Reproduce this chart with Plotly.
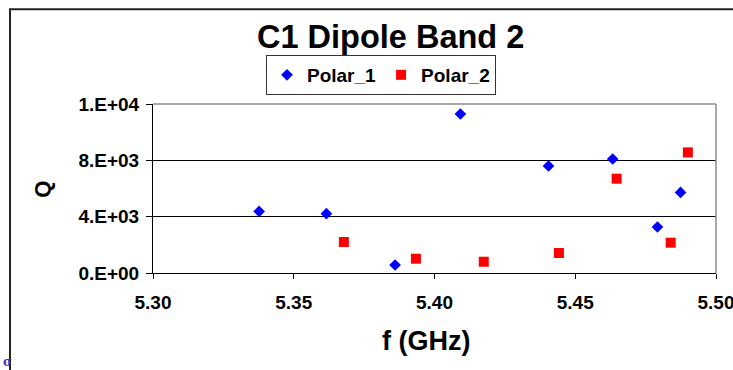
import plotly.graph_objects as go

# Data
polar1_f = [5.3377, 5.3616, 5.3860, 5.4092, 5.4405, 5.4633, 5.4792, 5.4874]
polar1_q = [4374, 4211, 568, 11290, 7598, 8095, 3266, 5723]
polar2_f = [5.3678, 5.3934, 5.4175, 5.4442, 5.4647, 5.4839, 5.4900]
polar2_q = [2201, 1015, 802, 1420, 6696, 2151, 8563]

x_ticks = [5.30, 5.35, 5.40, 5.45, 5.50]
x_ticktext = ["5.30", "5.35", "5.40", "5.45", "5.50"]
y_ticks = [0, 4000, 8000, 12000]
y_ticktext = ["0.E+00", "4.E+03", "8.E+03", "1.E+04"]

FONT = "Liberation Sans, Arial, sans-serif"

fig = go.Figure()
fig.add_trace(go.Scatter(
    x=polar1_f, y=polar1_q, mode="markers", name="<b>Polar_1</b>",
    marker=dict(symbol="diamond", size=9, color="#0000FF"),
))
fig.add_trace(go.Scatter(
    x=polar2_f, y=polar2_q, mode="markers", name="<b>Polar_2</b>",
    marker=dict(symbol="square", size=10, color="#FF0000"),
))

fig.update_layout(
    width=733, height=370,
    margin=dict(l=153, r=17, t=104, b=97, autoexpand=False),
    paper_bgcolor="white", plot_bgcolor="white",
    font=dict(family=FONT, color="black", size=18),
    showlegend=True,
    legend=dict(
        orientation="h", x=0.2007, y=1.290, xanchor="left", yanchor="top",
        bordercolor="#333333", borderwidth=1, bgcolor="white",
        font=dict(family=FONT, size=19, color="black"),
        itemwidth=30, tracegroupgap=0,
    ),
    xaxis=dict(
        range=[5.30, 5.50], tickmode="array", tickvals=x_ticks,
        ticktext=["<b>%s</b>" % t for t in x_ticktext],
        showgrid=False, zeroline=False, showline=True, linecolor="black", linewidth=1,
        ticks="outside", ticklen=5, tickcolor="black", tickwidth=1,
        ticklabelstandoff=7, ticklabeloverflow="allow",
        tickfont=dict(family=FONT, size=19, color="black"),
    ),
    yaxis=dict(
        range=[0, 12000], tickmode="array", tickvals=y_ticks,
        ticktext=["<b>%s</b>" % t for t in y_ticktext],
        showgrid=True, gridcolor="black", gridwidth=1, zeroline=False,
        showline=True, linecolor="black", linewidth=1,
        ticks="outside", ticklen=6, tickcolor="black", tickwidth=1,
        ticklabelstandoff=3,
        tickfont=dict(family=FONT, size=19, color="black"),
    ),
    annotations=[
        dict(text="<b>C1 Dipole Band 2</b>", x=0.4218, y=1.395, xref="paper", yref="paper",
             showarrow=False, xanchor="center", yanchor="middle",
             font=dict(family=FONT, size=32.5, color="black")),
        dict(text="<b>f (GHz)</b>", x=0.4849, y=-0.4006, xref="paper", yref="paper",
             showarrow=False, xanchor="center", yanchor="middle",
             font=dict(family=FONT, size=27, color="black")),
        dict(text="<b>Q</b>", x=-0.1954, y=0.4988, xref="paper", yref="paper",
             showarrow=False, xanchor="center", yanchor="middle", textangle=-90,
             font=dict(family=FONT, size=22, color="black")),
        dict(text="<b>σ</b>", x=-0.2593, y=-0.525, xref="paper", yref="paper",
             showarrow=False, xanchor="center", yanchor="middle",
             font=dict(family="DejaVu Serif, serif", size=12, color="#3333CC")),
    ],
    shapes=[
        # outer chart frame
        dict(type="rect", xref="paper", yref="paper", x0=-0.254, x1=1.2, y0=-0.6, y1=1.56,
             line=dict(color="#222222", width=2), fillcolor="rgba(0,0,0,0)", layer="above"),
        # plot-area border (top and right, gray)
        dict(type="line", xref="paper", yref="paper", x0=0, x1=1, y0=1, y1=1,
             line=dict(color="#8C8C8C", width=1.5), layer="above"),
        dict(type="line", xref="paper", yref="paper", x0=1, x1=1, y0=0, y1=1,
             line=dict(color="#8C8C8C", width=1.5), layer="above"),
    ],
)

fig.write_html(
    "out.html",
    config={"displayModeBar": False},
    post_script="document.body.style.margin='0';document.body.style.overflow='hidden';",
)
